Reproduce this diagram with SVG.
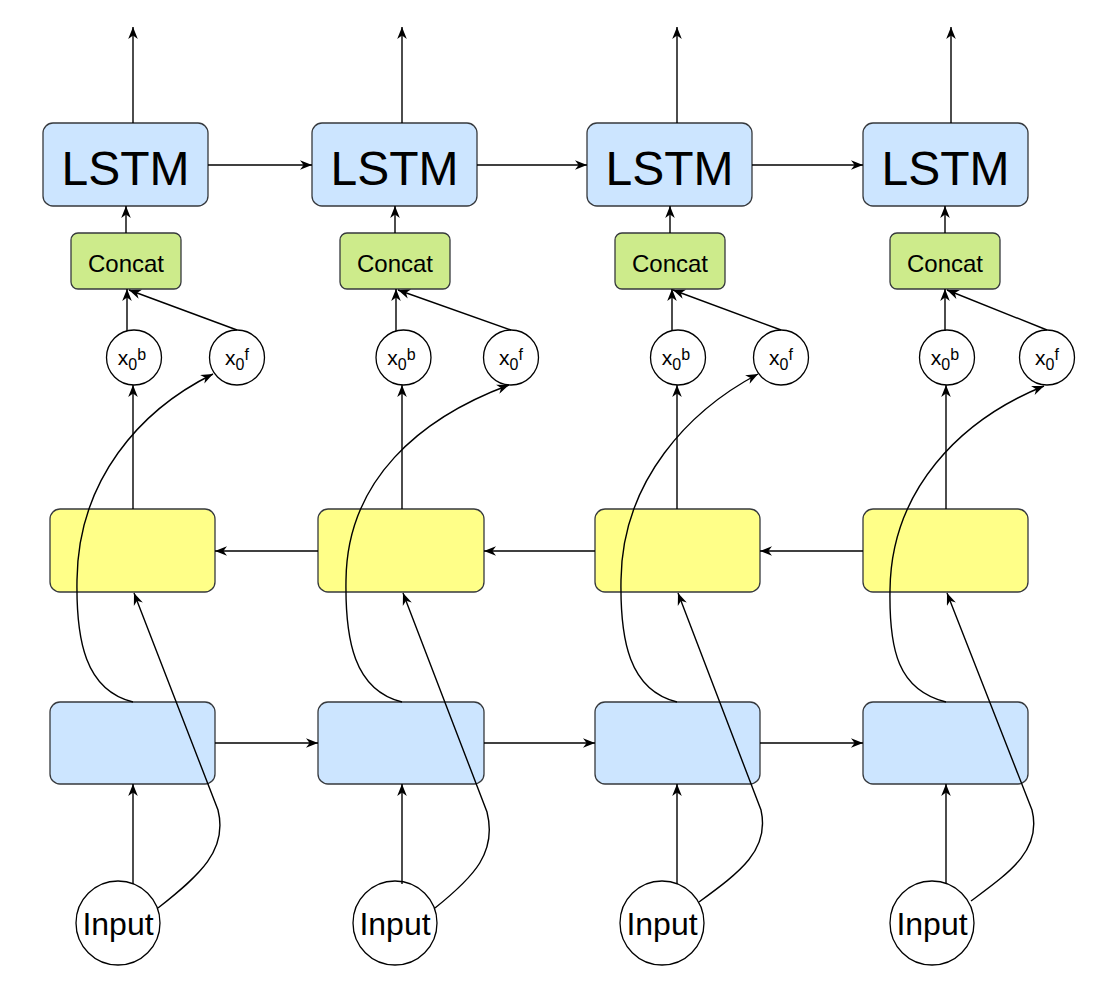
<svg xmlns="http://www.w3.org/2000/svg" width="1114" height="1000" viewBox="0 0 1114 1000">
<style>
.lstm{fill:#cce5ff;stroke:#36393d;stroke-width:1.3}
.cat{fill:#cdeb8b;stroke:#36393d;stroke-width:1.3}
.yel{fill:#ffff88;stroke:#36393d;stroke-width:1.3}
.blu{fill:#cce5ff;stroke:#36393d;stroke-width:1.3}
.circ{fill:#ffffff;stroke:#000000;stroke-width:1.3}
.t{font-family:"Liberation Sans",Arial,Helvetica,sans-serif;fill:#000;text-anchor:middle}
.big{font-size:48px}
.mid{font-size:24px}
.inp{font-size:32px}
.x0{font-size:21px}
.e{fill:none;stroke:#000;stroke-width:1.4;marker-end:url(#ah)}
</style>
<defs>
<marker id="ah" viewBox="0 0 10 8" refX="10" refY="4" markerWidth="12" markerHeight="10" markerUnits="userSpaceOnUse" orient="auto">
<path d="M0,0 L10,4 L0,8 L3,4 Z" fill="#000"/>
</marker>
</defs>
<rect width="1114" height="1000" fill="#ffffff"/>

<g id="lstm1"><rect class="lstm" x="43" y="123" width="165" height="83" rx="10"/><text class="t big" x="125.5" y="185">LSTM</text></g>
<g id="lstm2"><rect class="lstm" x="312" y="123" width="165" height="83" rx="10"/><text class="t big" x="394.5" y="185">LSTM</text></g>
<g id="lstm3"><rect class="lstm" x="587" y="123" width="165" height="83" rx="10"/><text class="t big" x="669.5" y="185">LSTM</text></g>
<g id="lstm4"><rect class="lstm" x="863" y="123" width="165" height="83" rx="10"/><text class="t big" x="945.5" y="185">LSTM</text></g>

<g id="concat1"><rect class="cat" x="71" y="233" width="110" height="56" rx="7"/><text class="t mid" x="126" y="272">Concat</text></g>
<g id="concat2"><rect class="cat" x="340" y="233" width="110" height="56" rx="7"/><text class="t mid" x="395" y="272">Concat</text></g>
<g id="concat3"><rect class="cat" x="615" y="233" width="110" height="56" rx="7"/><text class="t mid" x="670" y="272">Concat</text></g>
<g id="concat4"><rect class="cat" x="890" y="233" width="110" height="56" rx="7"/><text class="t mid" x="945" y="272">Concat</text></g>

<g id="x0b1"><circle class="circ" cx="134" cy="357.5" r="27.5"/><text class="t x0" x="132" y="365">x<tspan dy="5" font-size="16">0</tspan><tspan dy="-10" font-size="16">b</tspan></text></g>
<g id="x0f1"><circle class="circ" cx="237" cy="357.5" r="27.5"/><text class="t x0" x="237" y="365">x<tspan dy="5" font-size="16">0</tspan><tspan dy="-10" font-size="16">f</tspan></text></g>
<g id="x0b2"><circle class="circ" cx="403.5" cy="357.5" r="27.5"/><text class="t x0" x="401.5" y="365">x<tspan dy="5" font-size="16">0</tspan><tspan dy="-10" font-size="16">b</tspan></text></g>
<g id="x0f2"><circle class="circ" cx="511" cy="357.5" r="27.5"/><text class="t x0" x="511" y="365">x<tspan dy="5" font-size="16">0</tspan><tspan dy="-10" font-size="16">f</tspan></text></g>
<g id="x0b3"><circle class="circ" cx="678" cy="357.5" r="27.5"/><text class="t x0" x="676" y="365">x<tspan dy="5" font-size="16">0</tspan><tspan dy="-10" font-size="16">b</tspan></text></g>
<g id="x0f3"><circle class="circ" cx="781" cy="357.5" r="27.5"/><text class="t x0" x="781" y="365">x<tspan dy="5" font-size="16">0</tspan><tspan dy="-10" font-size="16">f</tspan></text></g>
<g id="x0b4"><circle class="circ" cx="947" cy="357.5" r="27.5"/><text class="t x0" x="945" y="365">x<tspan dy="5" font-size="16">0</tspan><tspan dy="-10" font-size="16">b</tspan></text></g>
<g id="x0f4"><circle class="circ" cx="1047" cy="357.5" r="27.5"/><text class="t x0" x="1047" y="365">x<tspan dy="5" font-size="16">0</tspan><tspan dy="-10" font-size="16">f</tspan></text></g>

<g id="bwd1"><rect class="yel" x="50" y="509" width="165" height="83" rx="10"/></g>
<g id="bwd2"><rect class="yel" x="318" y="509" width="166" height="83" rx="10"/></g>
<g id="bwd3"><rect class="yel" x="595" y="509" width="165" height="83" rx="10"/></g>
<g id="bwd4"><rect class="yel" x="863" y="509" width="165" height="83" rx="10"/></g>

<g id="fwd1"><rect class="blu" x="50" y="702" width="165" height="82" rx="10"/></g>
<g id="fwd2"><rect class="blu" x="318" y="702" width="166" height="82" rx="10"/></g>
<g id="fwd3"><rect class="blu" x="595" y="702" width="165" height="82" rx="10"/></g>
<g id="fwd4"><rect class="blu" x="863" y="702" width="165" height="82" rx="10"/></g>

<g id="input1"><circle class="circ" cx="118" cy="923" r="42"/><text class="t inp" x="118" y="935">Input</text></g>
<g id="input2"><circle class="circ" cx="395" cy="923" r="42"/><text class="t inp" x="395" y="935">Input</text></g>
<g id="input3"><circle class="circ" cx="662" cy="923" r="42"/><text class="t inp" x="662" y="935">Input</text></g>
<g id="input4"><circle class="circ" cx="932" cy="923" r="42"/><text class="t inp" x="932" y="935">Input</text></g>

<g id="connectors">
<path class="e" d="M133,123 V27"/>
<path class="e" d="M402,123 V27"/>
<path class="e" d="M677,123 V27"/>
<path class="e" d="M951,123 V27"/>
<path class="e" d="M208,165 H312"/>
<path class="e" d="M477,165 H587"/>
<path class="e" d="M752,165 H863"/>
<path class="e" d="M126,233 V206"/>
<path class="e" d="M395,233 V206"/>
<path class="e" d="M670,233 V206"/>
<path class="e" d="M945,233 V206"/>
<path class="e" d="M127,331 V289"/>
<path class="e" d="M396,331 V289"/>
<path class="e" d="M672,331 V289"/>
<path class="e" d="M945,331 V289"/>
<path class="e" d="M237,330 L129,290"/>
<path class="e" d="M511,330 L398,290"/>
<path class="e" d="M781,330 L673,290"/>
<path class="e" d="M1047,330 L947,290"/>
<path class="e" d="M133,509 V385"/>
<path class="e" d="M402,509 V385"/>
<path class="e" d="M677,509 V385"/>
<path class="e" d="M946,509 V385"/>
<path class="e" d="M318,551 H215"/>
<path class="e" d="M595,551 H484"/>
<path class="e" d="M863,551 H760"/>
<path class="e" d="M215,743 H318"/>
<path class="e" d="M484,743 H595"/>
<path class="e" d="M760,743 H863"/>
<path class="e" d="M133,884 V784"/>
<path class="e" d="M402,884 V784"/>
<path class="e" d="M677,884 V784"/>
<path class="e" d="M946,884 V784"/>
<path class="e" d="M133,702 C85,690 76,640 77,580 C78,480 140,410 213,374"/>
<path class="e" d="M402,702 C354,690 345,640 346,580 C347,480 420,418 509,385"/>
<path class="e" d="M677,702 C629,690 620,640 621,580 C622,480 690,410 758,374"/>
<path class="e" d="M946,702 C898,690 889,650 890,590 C891,490 960,420 1044,386"/>
<path class="e" d="M158,908 C200,875 228,850 218,810 L134,593"/>
<path class="e" d="M435,908 C475,876 497,852 487,812 L403,593"/>
<path class="e" d="M699,902 C740,872 770,850 761,810 L678,593"/>
<path class="e" d="M971,901 C1010,872 1042,850 1032,810 L947,593"/>
</g>
</svg>
